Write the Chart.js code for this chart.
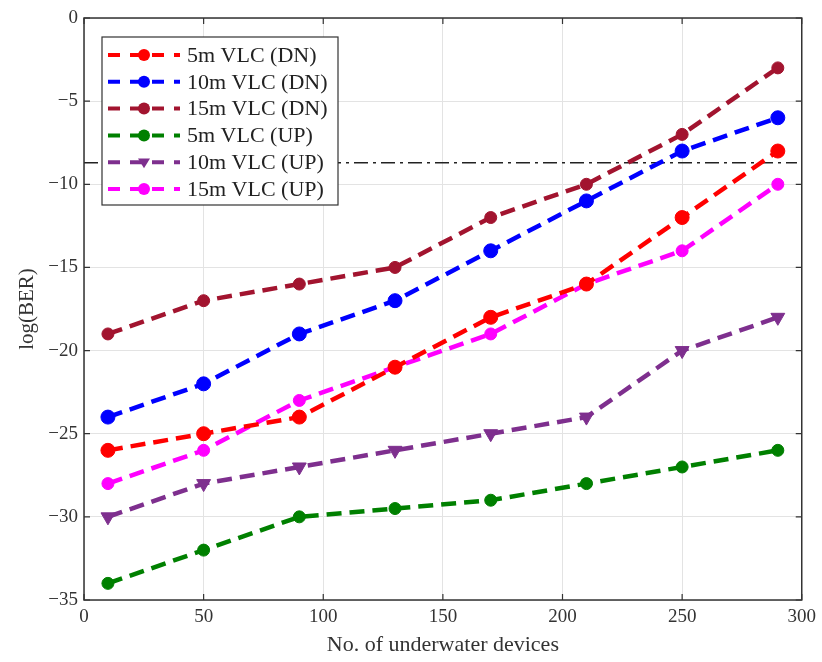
<!DOCTYPE html>
<html lang="en">
<head>
    <meta charset="UTF-8">
    <title>log(BER) vs underwater devices</title>
    <script src="https://cdn.jsdelivr.net/npm/chart.js"></script>
    <style>
        body { margin: 0; background: #fff; }
        #wrap { width: 822px; height: 662px; }
    </style>
</head>
<body>
    <div id="wrap"><canvas id="berChart" width="822" height="662"></canvas></div>

    <script>
        // values
        const devices = [10, 50, 90, 130, 170, 210, 250, 290];
        const vlc5Dn = [-26, -25, -24, -21, -18, -16, -12, -8];
        const vlc10Dn = [-24, -22, -19, -17, -14, -11, -8, -6];
        const vlc15Dn = [-19, -17, -16, -15, -12, -10, -7, -3];
        const vlc5Up = [-34, -32, -30, -29.5, -29, -28, -27, -26];
        const vlc10Up = [-30, -28, -27, -26, -25, -24, -20, -18];
        const vlc15Up = [-28, -26, -23, -21, -19, -16, -14, -10];
        const thresholdX = [0, 298];
        const thresholdY = -8.7;
        const xTicks = [0, 50, 100, 150, 200, 250, 300];
        const yTicks = [0, -5, -10, -15, -20, -25, -30, -35];

        const serif = "'Liberation Serif', 'DejaVu Serif', serif";
        const dash = [15, 8];

        function pts(ys) {
            return devices.map((x, i) => ({ x: x, y: ys[i] }));
        }

        function series(label, ys, color, marker, rotation, radius) {
            return {
                label: label,
                data: pts(ys),
                borderColor: color,
                backgroundColor: color,
                borderWidth: 4.5,
                borderDash: dash,
                pointStyle: marker,
                rotation: rotation || 0,
                pointRadius: radius || 6,
                pointBackgroundColor: color,
                pointBorderColor: color,
                pointBorderWidth: 1,
                tension: 0
            };
        }

        const datasets = [
            series('5m VLC (DN)', vlc5Dn, '#ff0000', 'circle', 0, 7),
            series('10m VLC (DN)', vlc10Dn, '#0000ff', 'circle', 0, 7),
            series('15m VLC (DN)', vlc15Dn, '#a2142f', 'circle'),
            series('5m VLC (UP)', vlc5Up, '#008000', 'circle'),
            series('10m VLC (UP)', vlc10Up, '#7e2f8e', 'triangle', 180, 8),
            series('15m VLC (UP)', vlc15Up, '#ff00ff', 'circle'),
            {
                label: 'threshold',
                data: thresholdX.map(x => ({ x: x, y: thresholdY })),
                borderColor: '#222',
                borderWidth: 1.5,
                borderDash: [14, 5, 3, 5],
                pointRadius: 0
            }
        ];

        function drawMarker(ctx, style, rotation, x, y, r, color) {
            ctx.save();
            ctx.fillStyle = color;
            ctx.beginPath();
            if (style === 'triangle') {
                ctx.moveTo(x, y + r);
                ctx.lineTo(x - r, y - r * 0.6);
                ctx.lineTo(x + r, y - r * 0.6);
                ctx.closePath();
            } else {
                ctx.arc(x, y, r, 0, Math.PI * 2);
            }
            ctx.fill();
            ctx.restore();
        }

        // MATLAB-style legend box inside the plot area, plus box + inward ticks
        const boxLegend = {
            id: 'boxLegend',
            afterDatasetsDraw(chart) {
                const ctx = chart.ctx;
                const bx = 102, by = 37, bw = 236, bh = 168;
                ctx.save();
                ctx.fillStyle = '#fff';
                ctx.fillRect(bx, by, bw, bh);
                ctx.strokeStyle = '#333';
                ctx.lineWidth = 1.2;
                ctx.strokeRect(bx, by, bw, bh);
                chart.data.datasets.slice(0, 6).forEach((ds, i) => {
                    const y = by + 18 + i * 26.8;
                    ctx.save();
                    ctx.strokeStyle = ds.borderColor;
                    ctx.lineWidth = 4;
                    ctx.setLineDash([12, 10]);
                    ctx.beginPath();
                    ctx.moveTo(108, y);
                    ctx.lineTo(180, y);
                    ctx.stroke();
                    ctx.restore();
                    drawMarker(ctx, ds.pointStyle, ds.rotation, 144, y, 6, ds.borderColor);
                    ctx.fillStyle = '#222';
                    ctx.font = '22px ' + serif;
                    ctx.textBaseline = 'middle';
                    ctx.textAlign = 'left';
                    ctx.fillText(ds.label, 187, y + 1);
                });
                ctx.restore();
            },
            afterDraw(chart) {
                const a = chart.chartArea;
                const ctx = chart.ctx;
                const xs = chart.scales.x, ys = chart.scales.y;
                ctx.save();
                ctx.strokeStyle = '#333';
                ctx.lineWidth = 1.5;
                ctx.strokeRect(a.left, a.top, a.right - a.left, a.bottom - a.top);
                ctx.lineWidth = 1.2;
                ctx.beginPath();
                xTicks.forEach(v => {
                    const px = xs.getPixelForValue(v);
                    ctx.moveTo(px, a.bottom); ctx.lineTo(px, a.bottom - 6);
                    ctx.moveTo(px, a.top); ctx.lineTo(px, a.top + 6);
                });
                yTicks.forEach(v => {
                    const py = ys.getPixelForValue(v);
                    ctx.moveTo(a.left, py); ctx.lineTo(a.left + 6, py);
                    ctx.moveTo(a.right, py); ctx.lineTo(a.right - 6, py);
                });
                ctx.stroke();
                ctx.restore();
            }
        };

        new Chart(document.getElementById('berChart').getContext('2d'), {
            type: 'line',
            data: { datasets: datasets },
            options: {
                responsive: false,
                animation: false,
                layout: { padding: { top: 18, right: 18, left: 0, bottom: 0 } },
                plugins: {
                    legend: { display: false },
                    tooltip: { enabled: false }
                },
                scales: {
                    x: {
                        type: 'linear',
                        min: 0,
                        max: 300,
                        afterBuildTicks: s => { s.ticks = xTicks.map(v => ({ value: v })); },
                        afterFit: s => { s.height = 62; },
                        ticks: {
                            color: '#333',
                            padding: 6,
                            font: { family: serif, size: 19 }
                        },
                        grid: { color: '#e3e3e3', drawTicks: false },
                        border: { display: false },
                        title: {
                            display: true,
                            text: 'No. of underwater devices',
                            color: '#333',
                            padding: { top: 4 },
                            font: { family: serif, size: 22 }
                        }
                    },
                    y: {
                        min: -35,
                        max: 0,
                        afterBuildTicks: s => { s.ticks = yTicks.map(v => ({ value: v })); },
                        afterFit: s => { s.width = 84; },
                        ticks: {
                            color: '#333',
                            padding: 6,
                            font: { family: serif, size: 19 },
                            callback: v => String(v).replace('-', '\u2212')
                        },
                        grid: { color: '#e3e3e3', drawTicks: false },
                        border: { display: false },
                        title: {
                            display: true,
                            text: 'log(BER)',
                            color: '#333',
                            padding: { top: 15, bottom: 0 },
                            font: { family: serif, size: 21 }
                        }
                    }
                }
            },
            plugins: [boxLegend]
        });
    </script>
</body>
</html>
